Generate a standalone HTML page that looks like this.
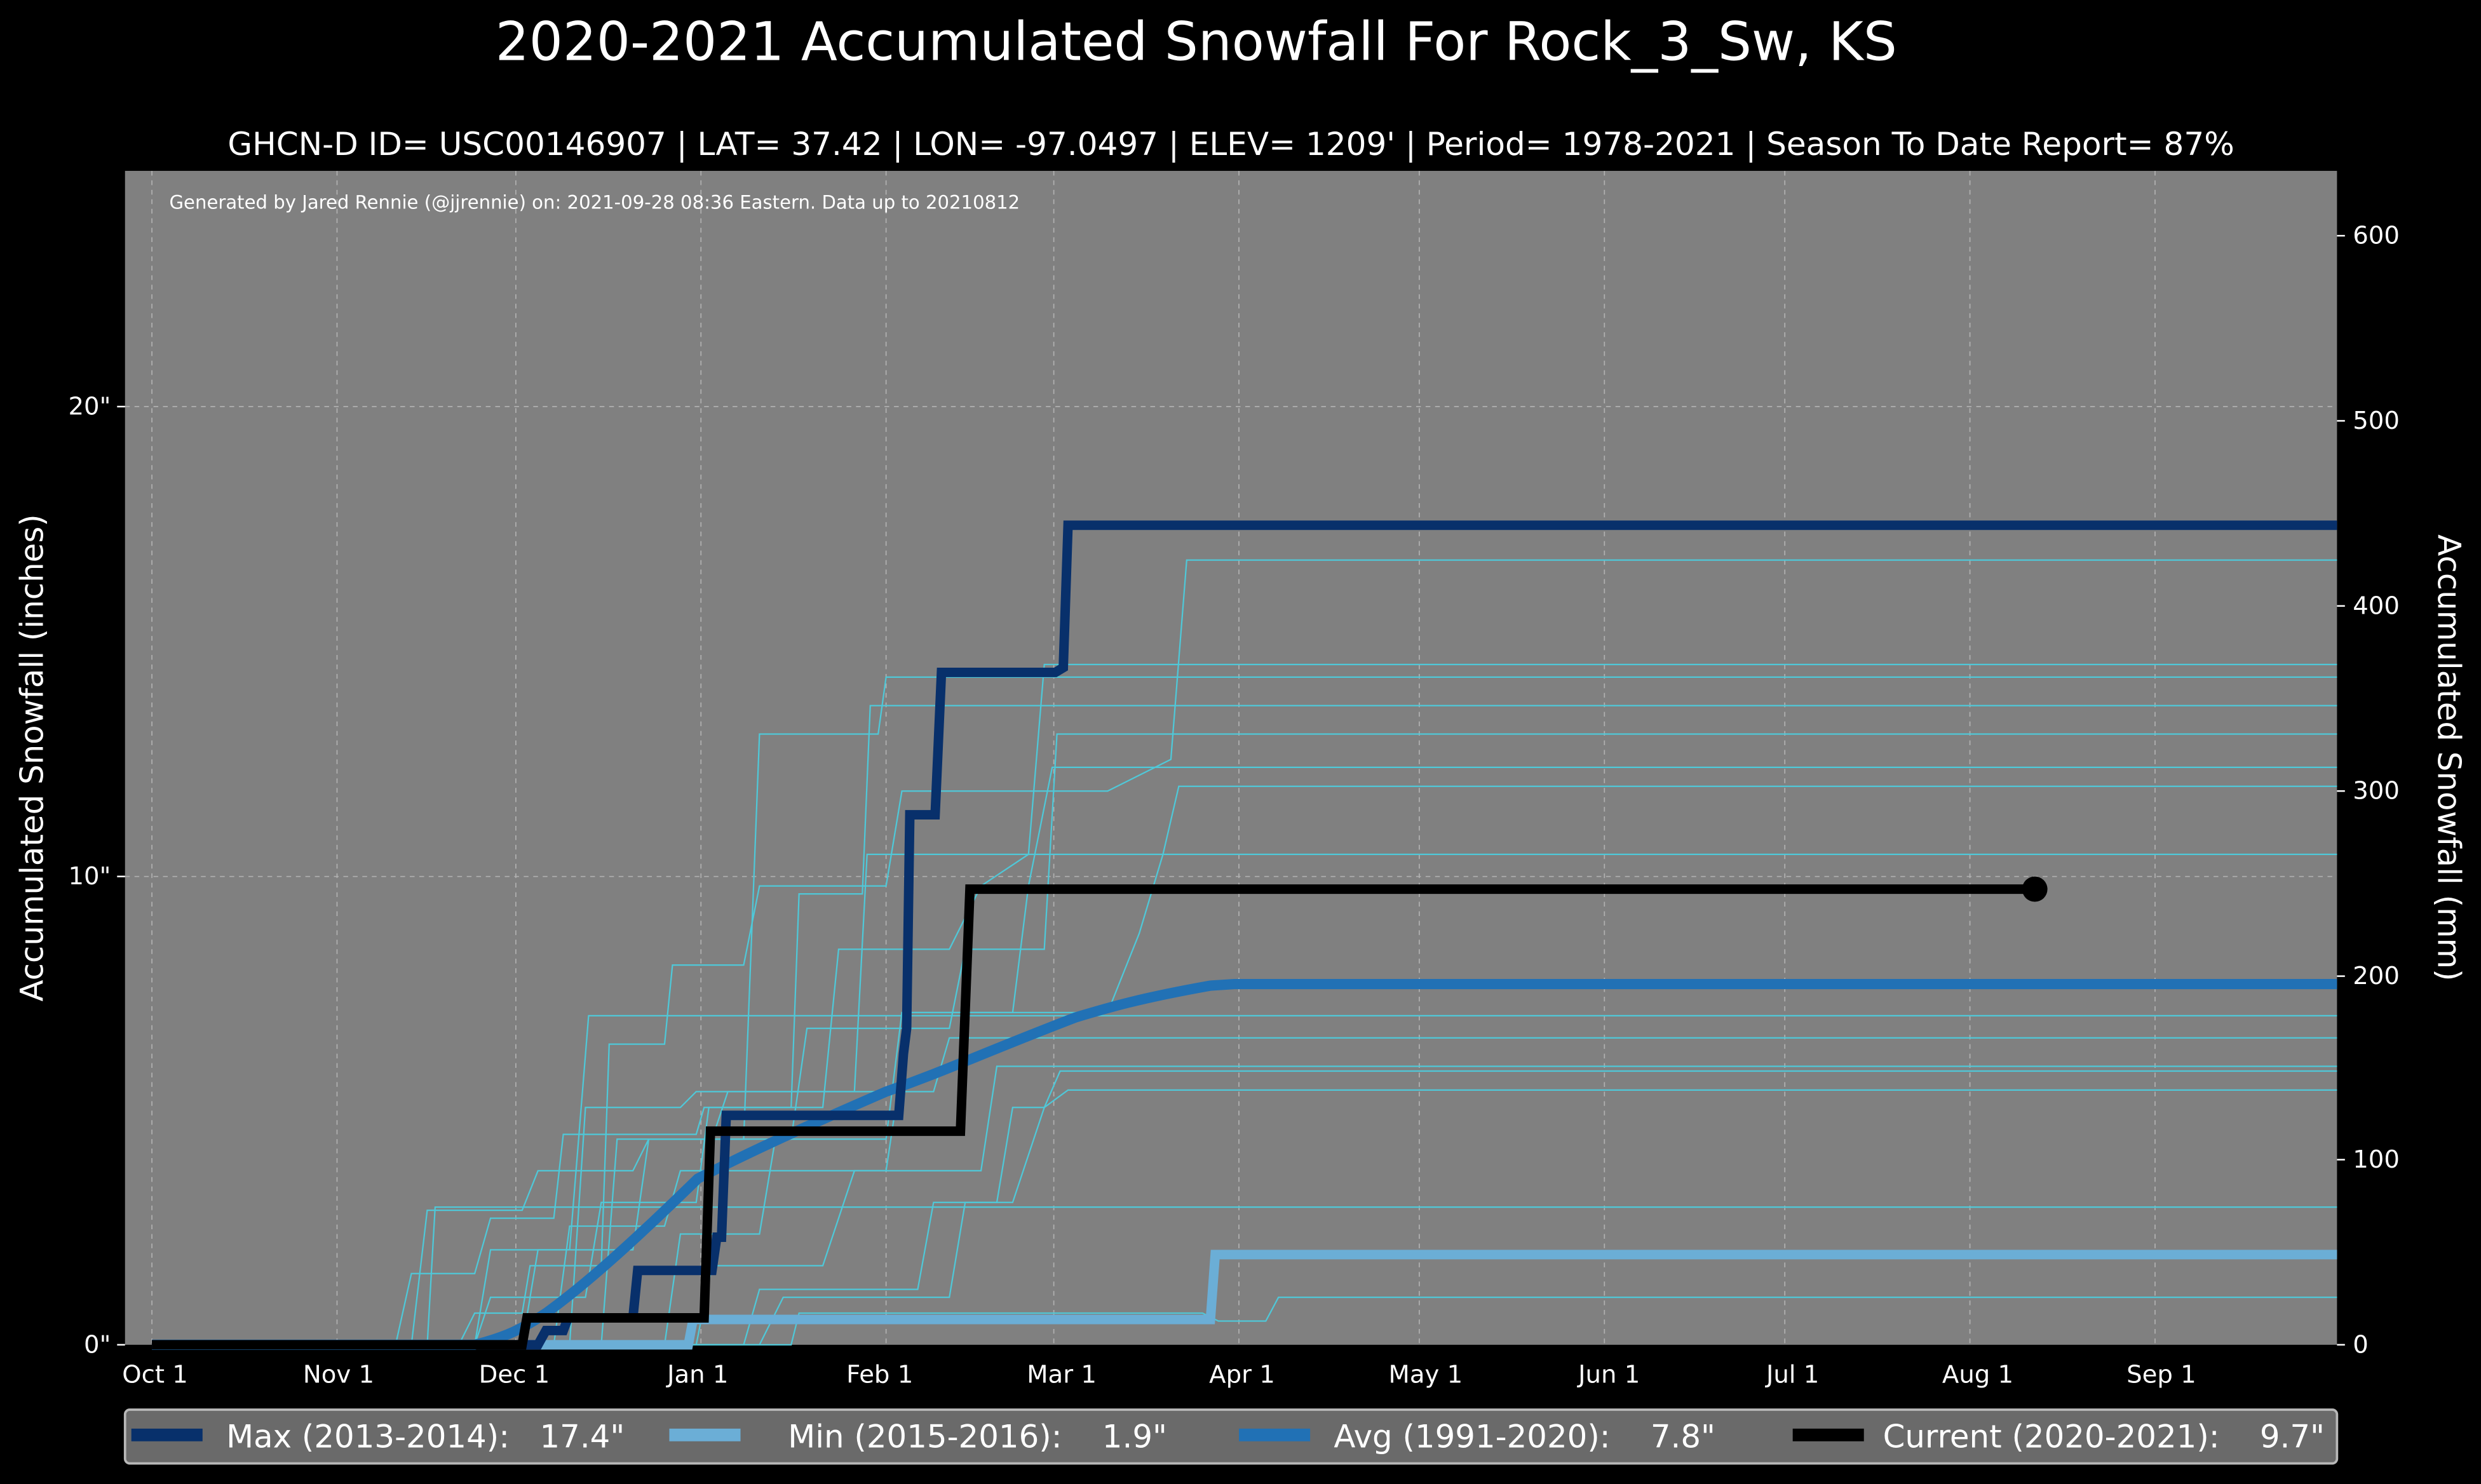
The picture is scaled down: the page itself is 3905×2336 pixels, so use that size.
<!DOCTYPE html>
<html><head><meta charset="utf-8"><style>
html,body{margin:0;padding:0;background:#000;}
svg{display:block;}
text{font-family:"DejaVu Sans","Liberation Sans",sans-serif;fill:#fff;white-space:pre;}
</style></head><body>
<svg width="3905" height="2336" viewBox="0 0 1568 938" xmlns="http://www.w3.org/2000/svg" xml:space="preserve">
<rect width="1568" height="938" fill="#000"/>
<text x="756" y="38" font-size="33.5" text-anchor="middle">2020-2021 Accumulated Snowfall For Rock_3_Sw, KS</text>
<text x="778" y="98" font-size="20.1" text-anchor="middle">GHCN-D ID= USC00146907 | LAT= 37.42 | LON= -97.0497 | ELEV= 1209' | Period= 1978-2021 | Season To Date Report= 87%</text>
<rect x="79" y="108" width="1398" height="742" fill="#808080"/>
<g stroke="#b0b0b0" stroke-width="0.7" stroke-dasharray="3,3" fill="none">
<line x1="96" y1="108" x2="96" y2="850"/><line x1="213" y1="108" x2="213" y2="850"/><line x1="326" y1="108" x2="326" y2="850"/><line x1="443" y1="108" x2="443" y2="850"/><line x1="560" y1="108" x2="560" y2="850"/><line x1="666" y1="108" x2="666" y2="850"/><line x1="783" y1="108" x2="783" y2="850"/><line x1="897" y1="108" x2="897" y2="850"/><line x1="1014" y1="108" x2="1014" y2="850"/><line x1="1128" y1="108" x2="1128" y2="850"/><line x1="1245" y1="108" x2="1245" y2="850"/><line x1="1362" y1="108" x2="1362" y2="850"/>
<line x1="79" y1="257" x2="1477" y2="257"/><line x1="79" y1="554" x2="1477" y2="554"/>
</g>
<text x="107" y="132" font-size="11.7">Generated by Jared Rennie (@jjrennie) on: 2021-09-28 08:36 Eastern. Data up to 20210812</text>
<g stroke="#4fc8d8" stroke-width="0.9" fill="none">
<path d="M96 850 H290 L300 830 L330 830 L335 800 L380 800 L385 660 L420 660 L425 610 L470 610 L480 560 L560 560 L570 500 L700 500 L740 480 L750 354 H1477"/>
<path d="M96 850 H300 L310 820 L370 820 L380 760 L440 760 L448 700 L520 700 L530 600 L600 600 L620 560 L650 540 L660 420 H1477"/>
<path d="M96 850 H330 L340 790 L400 790 L410 720 L470 720 L480 464 L555 464 L560 428 H1477"/>
<path d="M96 850 H250 L260 805 L300 805 L310 770 L350 770 L356 717 L440 717 L445 700 L500 700 L505 565 L545 565 L550 446 H1477"/>
<path d="M96 850 H260 L270 765 L330 765 L340 740 L400 740 L410 720 L500 720 L510 650 L600 650 L610 600 L660 600 L668 464 H1477"/>
<path d="M96 850 H420 L430 780 L480 780 L490 720 L560 720 L570 640 L640 640 L650 560 L665 485 H1477"/>
<path d="M96 850 H350 L360 775 L420 775 L430 740 L560 740 L575 640 L700 640 L720 590 L735 540 L745 497 H1477"/>
<path d="M96 850 H360 L370 700 L430 700 L440 690 L540 690 L548 540 H1477"/>
<path d="M96 850 H300 L310 790 L360 790 L372 642 H1477"/>
<path d="M96 850 H380 L390 720 L450 720 L460 690 L590 690 L600 656 H1477"/>
<path d="M96 850 H440 L450 800 L520 800 L540 740 L620 740 L630 674 H1477"/>
<path d="M96 850 H470 L480 815 L580 815 L590 760 L640 760 L660 700 L670 677 H1477"/>
<path d="M96 850 H480 L495 820 L600 820 L610 760 L630 760 L640 700 L660 700 L675 689 H1477"/>
<path d="M96 850 H270 L275 763 H1477"/>
<path d="M96 850 H500 L505 830 L760 830 L770 835 L800 835 L808 820 H1477"/>
</g>
<path d="M96 850 H300 C320 845 330 840 345 830 C370 812 400 785 441 745 C470 730 500 716 560 690 C600 676 620 666 680 643 C700 637 720 631 765 623 L780 622 H1477" stroke="#2171b5" stroke-width="6.5" fill="none"/>
<path d="M96 850 H435 L438 834 H765 L768 793 H1477" stroke="#6baed6" stroke-width="6" fill="none"/>
<path d="M96 850 H340 L345 841 H356 L359 833 H400 L403 803 H450 L453 782 H456 L459 705 H568 L571 666 L573 650 L575 515 H591 L595 425 H667 L672 422 L675 332 H1477" stroke="#08306b" stroke-width="6" fill="none"/>
<path d="M96 850 H330 L333 833 H445 L449 715 H607 L613 562 H1286" stroke="#000" stroke-width="6" fill="none"/>
<circle cx="1286" cy="562" r="8" fill="#000"/>
<g stroke="#fff" stroke-width="1">
<line x1="79" y1="850" x2="74" y2="850"/><line x1="79" y1="554" x2="74" y2="554"/><line x1="79" y1="257" x2="74" y2="257"/>
<line x1="1477" y1="850" x2="1482" y2="850"/><line x1="1477" y1="733" x2="1482" y2="733"/><line x1="1477" y1="617" x2="1482" y2="617"/><line x1="1477" y1="500" x2="1482" y2="500"/><line x1="1477" y1="383" x2="1482" y2="383"/><line x1="1477" y1="266" x2="1482" y2="266"/><line x1="1477" y1="149" x2="1482" y2="149"/>
</g>
<g font-size="15.5" text-anchor="end">
<text x="70" y="855">0"</text><text x="70" y="559">10"</text><text x="70" y="262">20"</text>
</g>
<g font-size="15.5" text-anchor="start">
<text x="1487" y="855">0</text><text x="1487" y="738">100</text><text x="1487" y="622">200</text><text x="1487" y="505">300</text><text x="1487" y="388">400</text><text x="1487" y="271">500</text><text x="1487" y="154">600</text>
</g>
<g font-size="15.5" text-anchor="middle">
<text x="98" y="874">Oct 1</text><text x="214" y="874">Nov 1</text><text x="325" y="874">Dec 1</text><text x="441" y="874">Jan 1</text><text x="556" y="874">Feb 1</text><text x="671" y="874">Mar 1</text><text x="785" y="874">Apr 1</text><text x="901" y="874">May 1</text><text x="1017" y="874">Jun 1</text><text x="1133" y="874">Jul 1</text><text x="1250" y="874">Aug 1</text><text x="1366" y="874">Sep 1</text>
</g>
<text transform="translate(27 479) rotate(-90)" font-size="20" text-anchor="middle">Accumulated Snowfall (inches)</text>
<text transform="translate(1541 479) rotate(90)" font-size="20" text-anchor="middle">Accumulated Snowfall (mm)</text>
<rect x="79" y="891" width="1398" height="34" rx="3" fill="#6a6a6a" stroke="#b8b8b8" stroke-width="1.5"/>
<g font-size="20">
<rect x="83" y="903" width="45" height="8" fill="#08306b"/><text x="143" y="915">Max (2013-2014):   17.4"</text>
<rect x="423" y="903" width="45" height="8" fill="#6baed6"/><text x="498" y="915">Min (2015-2016):    1.9"</text>
<rect x="783" y="903" width="45" height="8" fill="#2171b5"/><text x="788" y="915" opacity="0"> </text><text x="843" y="915">Avg (1991-2020):    7.8"</text>
<rect x="1133" y="903" width="45" height="8" fill="#000"/><text x="1190" y="915">Current (2020-2021):    9.7"</text>
</g>
</svg>
</body></html>
